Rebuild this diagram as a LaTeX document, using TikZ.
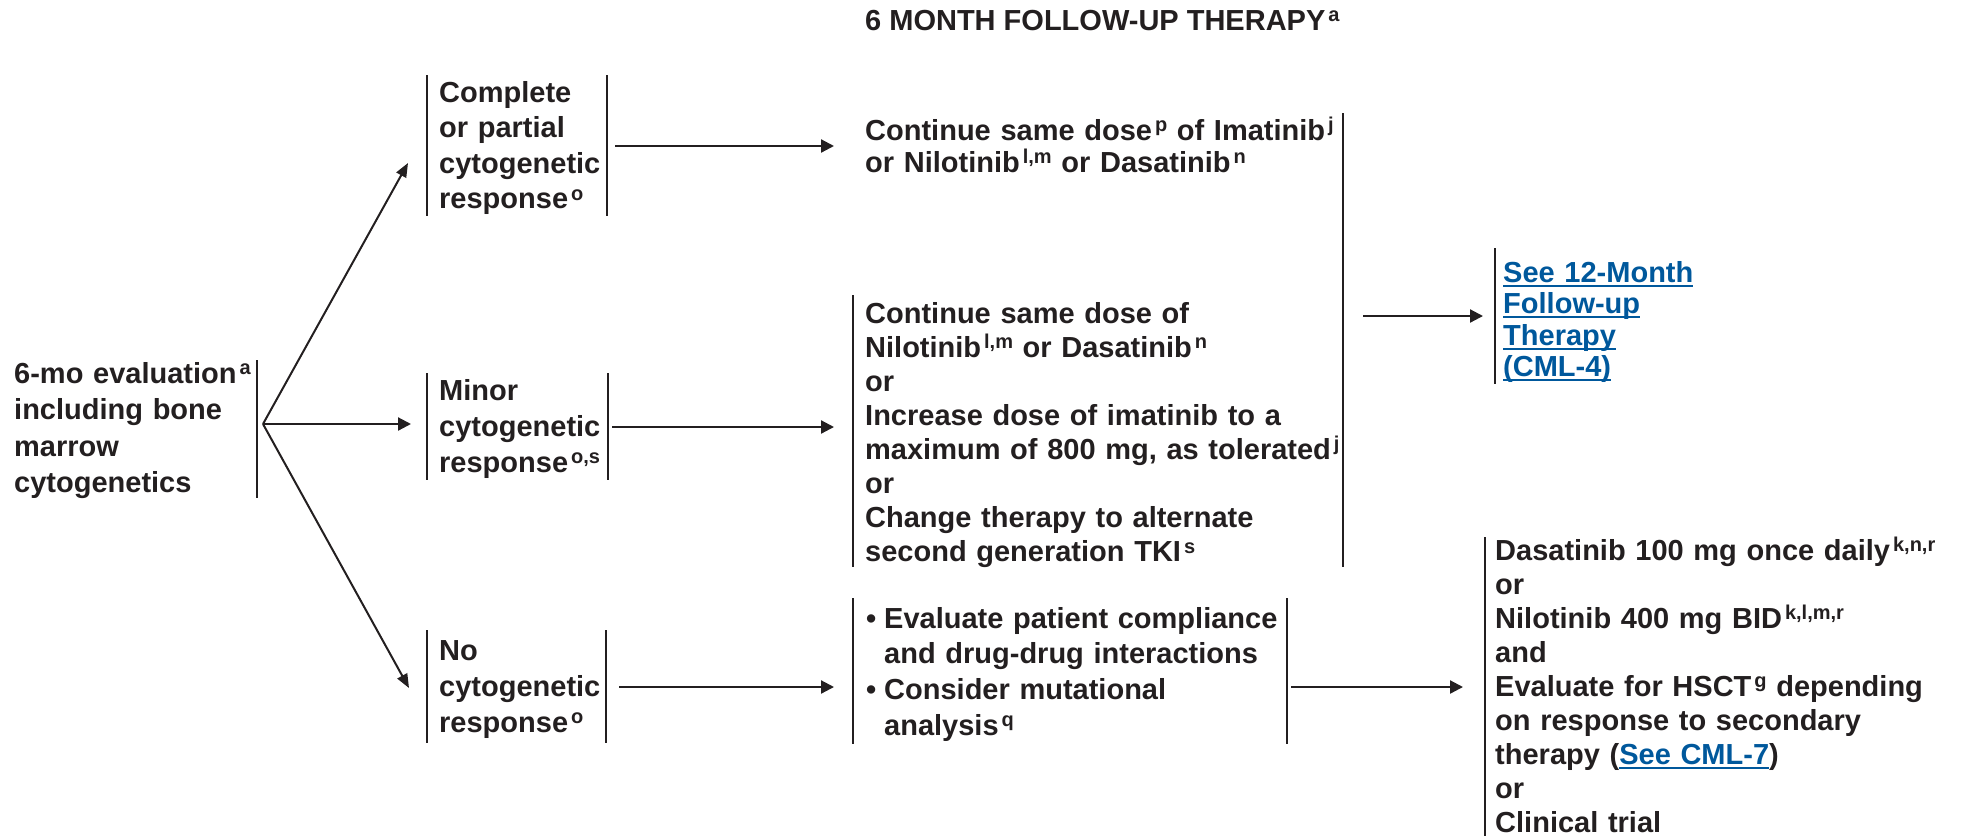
\documentclass[tikz,border=0pt]{standalone}
\usepackage{fontspec}
\setmainfont{Liberation Sans}
\usetikzlibrary{arrows.meta}
\definecolor{ink}{RGB}{35,31,32}
\definecolor{linkblue}{RGB}{0,88,156}
% never split words across lines
\hyphenpenalty=10000
\exhyphenpenalty=10000
% superscript footnote letters (kept on the same line as their word)
\newcommand\sps[1]{\kern3pt\raisebox{8.5pt}{\fontsize{20}{20}\selectfont #1}}
% underlined cross-reference
\newcommand\lnk[1]{\textcolor{linkblue}{\setbox0=\hbox{#1}\rlap{\copy0}\rule[-4.5pt]{\wd0}{1.8pt}}}
\begin{document}
\begin{tikzpicture}[x=1pt,y=-1pt,
  lbl/.style={inner sep=0pt, anchor=base west, align=left, text=ink,
              font=\bfseries\fontsize{29}{#1}\selectfont},
  bar/.style={draw=ink, line width=2pt},
  arr/.style={draw=ink, line width=2.2pt, -{Triangle[length=13pt,width=13pt]}},
  farr/.style={draw=ink, line width=2pt, -{Triangle[length=14pt,width=11pt]}}]
\useasboundingbox (0,0) rectangle (1961,836);

% heading
\node[lbl=35] (title) at (865,30) {6 MONTH FOLLOW-UP THERAPY\sps{a}};

% evaluation at 6 months
\node[lbl=36.5, text width=240pt] (eval) at (14,383)
  {6-mo evaluation\sps{a}\\including bone\\marrow\\cytogenetics};
\draw[bar] (257,360) -- (257,498);
\coordinate (fan) at (263,424);

% response categories
\node[lbl=35.5, text width=164pt] (cpr) at (439,102)
  {Complete\\or partial\\cytogenetic\\response\sps{o}};
\draw[bar] (427,75) -- (427,216);
\draw[bar] (607,75) -- (607,216);

\node[lbl=36, text width=164pt] (minor) at (439,400)
  {Minor\\cytogenetic\\response\sps{o,s}};
\draw[bar] (427,373) -- (427,480);
\draw[bar] (608,373) -- (608,480);

\node[lbl=36, text width=164pt] (none) at (439,660)
  {No\\cytogenetic\\response\sps{o}};
\draw[bar] (427,630) -- (427,743);
\draw[bar] (606,630) -- (606,743);

% therapy options
\node[lbl=32, text width=490pt] (cont) at (865,140)
  {Continue same dose\sps{p} of Imatinib\sps{j}\\or Nilotinib\sps{l,m} or Dasatinib\sps{n}};

\node[lbl=34.1, text width=490pt] (mid) at (865,323)
  {Continue same dose of\\Nilotinib\sps{l,m} or Dasatinib\sps{n}\\or\\Increase dose of imatinib to a\\maximum of 800 mg, as tolerated\sps{j}\\or\\Change therapy to alternate\\second generation TKI\sps{s}};
\draw[bar] (853,295) -- (853,567);
\draw[bar] (1343,113) -- (1343,567);

\node[lbl=35.7, text width=416pt] (eva) at (866,628)
  {\makebox[18pt][l]{\textbullet}Evaluate patient compliance\\
   \hspace*{18pt}and drug-drug interactions\\
   \makebox[18pt][l]{\textbullet}Consider mutational\\
   \hspace*{18pt}analysis\sps{q}};
\draw[bar] (853,598) -- (853,744);
\draw[bar] (1287,598) -- (1287,744);

% next steps
\node[lbl=31.5, text width=200pt] (see) at (1503,282)
  {\lnk{See 12-Month}\\\lnk{Follow-up}\\\lnk{Therapy}\\\lnk{(CML-4)}};
\draw[bar] (1495,248) -- (1495,384);

\node[lbl=34, text width=460pt] (fin) at (1495,560)
  {Dasatinib 100 mg once daily\sps{k,n,r}\\or\\Nilotinib 400 mg BID\sps{k,l,m,r}\\and\\Evaluate for HSCT\sps{g} depending\\on response to secondary\\therapy (\lnk{See CML-7})\\or\\Clinical trial};
\draw[bar] (1485,537) -- (1485,836);

% connectors
\draw[farr] (fan) -- ([xshift=-31pt]cpr.west |- 0,163);
\draw[arr]  (fan) -- ([xshift=-28pt]minor.west |- fan);
\draw[farr] (fan) -- ([xshift=-30pt]none.west |- 0,688);

\draw[arr] ([xshift=12pt]cpr.east |- 0,146) -- ([xshift=-31pt]cont.west |- 0,146);
\draw[arr] ([xshift=9pt]minor.east |- 0,427) -- ([xshift=-31pt]mid.west |- 0,427);
\draw[arr] ([xshift=16pt]none.east |- 0,687) -- ([xshift=-32pt]eva.west |- 0,687);
\draw[arr] ([xshift=8pt]cont.east |- 0,316) -- ([xshift=-20pt]see.west |- 0,316);
\draw[arr] ([xshift=9pt]eva.east |- 0,687) -- ([xshift=-32pt]fin.west |- 0,687);
\end{tikzpicture}
\end{document}
